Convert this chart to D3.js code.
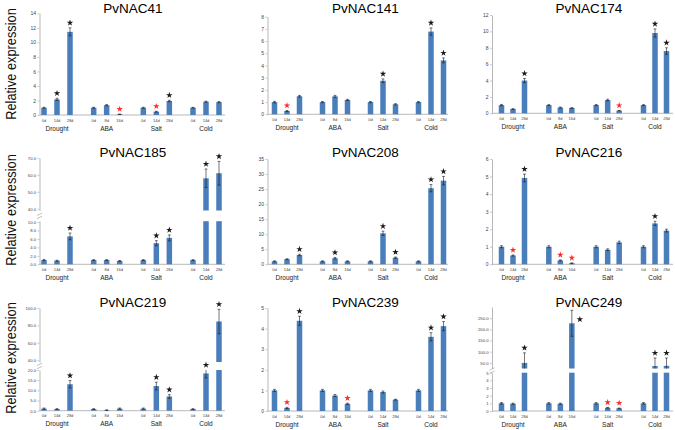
<!DOCTYPE html>
<html>
<head>
<meta charset="utf-8">
<script src="https://cdn.jsdelivr.net/npm/d3@7"></script>
<style>
  body { margin: 0; background: #fff; }
  svg { display: block; font-family: "Liberation Sans", Arial, sans-serif; }
</style>
</head>
<body>
<svg id="chart" width="675" height="430"></svg>
<script>
// Datos: genes, tratamientos y puntos de tiempo
const genes = ["PvNAC41", "PvNAC141", "PvNAC174", "PvNAC185", "PvNAC208", "PvNAC216", "PvNAC219", "PvNAC239", "PvNAC249"];
const groups = ["Drought", "ABA", "Salt", "Cold"];
const timePoints = [["0d", "14d", "28d"], ["0d", "8d", "16d"], ["0d", "14d", "28d"], ["0d", "14d", "28d"]];

// Expresión relativa (12 barras por gen: Drought x3, ABA x3, Salt x3, Cold x3)
const expression = [
  [1.0, 2.15, 11.45, 1.0, 1.35, 0.1, 1.0, 0.45, 1.93, 1.0, 1.83, 1.77],
  [1.0, 0.27, 1.48, 1.0, 1.47, 1.18, 1.0, 2.75, 0.82, 1.0, 6.78, 4.42],
  [1.0, 0.52, 4.0, 1.0, 0.7, 0.65, 1.0, 1.62, 0.32, 1.0, 9.8, 7.6],
  [1.0, 0.85, 6.6, 1.0, 1.0, 0.8, 1.0, 5.0, 6.25, 1.0, 58, 61],
  [1.0, 1.7, 3.1, 1.0, 2.0, 1.0, 1.0, 10.3, 2.2, 1.0, 25.3, 27.8],
  [1.0, 0.5, 4.92, 1.0, 0.22, 0.06, 1.0, 0.83, 1.25, 1.0, 2.33, 1.92],
  [1.0, 0.8, 13, 0.8, 0.3, 1.0, 1.0, 12.1, 7.0, 0.8, 18.3, 84.5],
  [1.0, 0.15, 4.38, 1.0, 0.75, 0.35, 1.0, 0.92, 0.55, 1.0, 3.6, 4.12],
  [1.0, 0.95, 50, 1.0, 0.95, 227, 1.0, 0.42, 0.35, 1.0, 36, 37]
];
// Error estándar
const errors = [
  [0.06, 0.15, 0.55, 0.06, 0.08, 0.03, 0.06, 0.06, 0.1, 0.05, 0.07, 0.08],
  [0.06, 0.04, 0.07, 0.05, 0.08, 0.05, 0.05, 0.15, 0.05, 0.05, 0.3, 0.2],
  [0.08, 0.05, 0.25, 0.06, 0.06, 0.04, 0.07, 0.1, 0.03, 0.06, 0.5, 0.4],
  [0.15, 0.1, 0.8, 0.1, 0.1, 0.1, 0.1, 0.6, 0.7, 0.1, 5.5, 7],
  [0.15, 0.15, 0.25, 0.15, 0.25, 0.15, 0.15, 0.7, 0.2, 0.15, 1.2, 1.4],
  [0.06, 0.03, 0.22, 0.06, 0.03, 0.02, 0.06, 0.05, 0.07, 0.06, 0.12, 0.08],
  [0.3, 0.2, 1.8, 0.2, 0.1, 0.3, 0.3, 1.9, 0.9, 0.2, 2.2, 14],
  [0.05, 0.03, 0.22, 0.05, 0.05, 0.03, 0.05, 0.05, 0.02, 0.05, 0.2, 0.22],
  [0.1, 0.08, 45, 0.1, 0.08, 58, 0.1, 0.05, 0.04, 0.1, 36, 35]
];
// Significancia: 0 nada, 1 estrella negra (sube), 2 estrella roja (baja)
const significance = [
  [0, 1, 1, 0, 0, 2, 0, 2, 1, 0, 0, 0],
  [0, 2, 0, 0, 0, 0, 0, 1, 0, 0, 1, 1],
  [0, 0, 1, 0, 0, 0, 0, 0, 2, 0, 1, 1],
  [0, 0, 1, 0, 0, 0, 0, 1, 1, 0, 1, 1],
  [0, 0, 1, 0, 1, 0, 0, 1, 1, 0, 1, 1],
  [0, 2, 1, 0, 2, 2, 0, 0, 0, 0, 1, 0],
  [0, 0, 1, 0, 0, 0, 0, 1, 1, 0, 1, 1],
  [0, 2, 1, 0, 0, 2, 0, 0, 0, 0, 1, 1],
  [0, 0, 1, 0, 0, 1, 0, 2, 2, 0, 1, 1]
];
// Marcas del eje Y (ejes cortados: tramo inferior y superior)
const yTicks = [
  [0, 2, 4, 6, 8, 10, 12, 14], [0, 1, 2, 3, 4, 5, 6, 7, 8], [0, 2, 4, 6, 8, 10, 12],
  null, [0, 5, 10, 15, 20, 25, 30, 35], [0, 1, 2, 3, 4, 5, 6],
  null, [0, 1, 2, 3, 4, 5], null
];
const lowerTicks = [null, null, null, [0, 2, 4, 6, 8, 10], null, null, [0, 5, 10, 15, 20], null, [0, 1, 2, 3, 4, 5]];
const upperTicks = [null, null, null, [40, 50, 60, 70], null, null, [40, 60, 80, 100], null, [50, 100, 150, 200, 250]];

// Disposición (no son datos)
const colLayout = [
  { axisX: 39.5, axisEnd: 225, first: 57, last: 206, bs: 13, titleX: 133 },
  { axisX: 267.5, axisEnd: 448, first: 287, last: 431, bs: 12.5, titleX: 365.5 },
  { axisX: 492, axisEnd: 673, first: 513, last: 655, bs: 11.5, titleX: 589 }
];
const rowLayout = [
  { titleY: 13, labelY: 64 },
  { titleY: 157, labelY: 210 },
  { titleY: 306.5, labelY: 358 }
];
const frames = [
  { y0: 115, top: 13.3 }, { y0: 114.3, top: 16.7 }, { y0: 113.3, top: 15 },
  { y0: 264.3, lower: [10.2, 221.2], upper: [39, 70, 210.5, 158], fmtL: ".1f", fmtU: ".1f" },
  { y0: 264.3, top: 159 }, { y0: 264.3, top: 159 },
  { y0: 410.7, lower: [20, 370], upper: [38, 100, 362, 308], fmtL: ".1f", fmtU: ".1f" },
  { y0: 411, top: 308 },
  { y0: 411, lower: [5, 372.7], upper: [25, 300, 368.5, 307], fmtL: "d", fmtU: ".1f" }
];
const starBeside = { "8-5": true };

const BLUE = "#4a7ebb";
const AXIS = "#a6a6a6";
const barW = 5.5;

const svg = d3.select("#chart");

function styleAxis(a, fs) {
  a.select(".domain").attr("stroke", AXIS).attr("stroke-width", 0.8);
  a.selectAll(".tick line").attr("stroke", AXIS).attr("stroke-width", 0.6);
  a.selectAll(".tick text").attr("fill", "#444").attr("font-size", fs).attr("font-family", "Liberation Sans, Arial, sans-serif");
}

genes.forEach((gene, p) => {
  const col = p % 3, row = Math.floor(p / 3);
  const c = colLayout[col], r = rowLayout[row], f = frames[p];
  const g = svg.append("g");

  // Escalas X
  const xg = d3.scalePoint().domain(groups).range([c.first, c.last]);
  const xi = d3.scalePoint().domain([0, 1, 2]).range([-c.bs, c.bs]);
  const xPos = i => xg(groups[Math.floor(i / 3)]) + xi(i % 3);

  // Tramos del eje Y
  let segs;
  if (yTicks[p]) {
    const max = yTicks[p][yTicks[p].length - 1];
    segs = [{ domain: [0, max], range: [f.y0, f.top], ticks: yTicks[p], fmt: "d", fs: 5 }];
  } else {
    segs = [
      { domain: [0, f.lower[0]], range: [f.y0, f.lower[1]], ticks: lowerTicks[p], fmt: f.fmtL, fs: 4.2 },
      { domain: [f.upper[0], f.upper[1]], range: [f.upper[2], f.upper[3]], ticks: upperTicks[p], fmt: f.fmtU, fs: 4.2 }
    ];
  }
  segs.forEach(s => { s.scale = d3.scaleLinear().domain(s.domain).range(s.range); });

  segs.forEach(s => {
    const ax = d3.axisLeft(s.scale).tickValues(s.ticks).tickSize(2).tickSizeOuter(0)
      .tickPadding(1.5).tickFormat(d3.format(s.fmt));
    const a = g.append("g").attr("transform", `translate(${c.axisX},0)`).call(ax);
    styleAxis(a, s.fs);
  });

  // Marca de corte del eje
  if (segs.length > 1) {
    const yb = (segs[0].range[1] + segs[1].range[0]) / 2;
    [-1.6, 1.6].forEach(dy => {
      g.append("line")
        .attr("x1", c.axisX - 2.5).attr("x2", c.axisX + 2.5)
        .attr("y1", yb + dy + 1.2).attr("y2", yb + dy - 1.2)
        .attr("stroke", AXIS).attr("stroke-width", 0.7);
    });
  }

  // Eje X
  g.append("line")
    .attr("x1", c.axisX).attr("x2", c.axisEnd)
    .attr("y1", f.y0).attr("y2", f.y0)
    .attr("stroke", AXIS).attr("stroke-width", 0.8);

  const vals = expression[p], errs = errors[p], sig = significance[p];

  // Barras (divididas por tramo)
  vals.forEach((v, i) => {
    segs.forEach(s => {
      const lo = s.domain[0], hi = s.domain[1];
      if (v <= lo) return;
      const top = Math.min(v, hi);
      g.append("rect")
        .attr("x", xPos(i) - barW / 2)
        .attr("y", s.scale(top))
        .attr("width", barW)
        .attr("height", s.scale(lo) - s.scale(top))
        .attr("fill", BLUE);
    });
  });

  // Barras de error y estrellas
  vals.forEach((v, i) => {
    const s = segs.find(sg => v <= sg.domain[1]) || segs[segs.length - 1];
    const lo = s.domain[0], hi = s.domain[1];
    const eTop = Math.min(v + errs[i], hi), eBot = Math.max(v - errs[i], lo);
    const x = xPos(i);
    const ec = "#1a1a1a";
    g.append("line").attr("x1", x).attr("x2", x)
      .attr("y1", s.scale(eBot)).attr("y2", s.scale(eTop))
      .attr("stroke", ec).attr("stroke-width", 0.6);
    if (v + errs[i] <= hi) {
      g.append("line").attr("x1", x - 1.4).attr("x2", x + 1.4)
        .attr("y1", s.scale(eTop)).attr("y2", s.scale(eTop))
        .attr("stroke", ec).attr("stroke-width", 0.6);
    }
    if (v - errs[i] >= lo) {
      g.append("line").attr("x1", x - 1.4).attr("x2", x + 1.4)
        .attr("y1", s.scale(eBot)).attr("y2", s.scale(eBot))
        .attr("stroke", ec).attr("stroke-width", 0.6);
    }
    if (sig[i]) {
      let sx = x, sy = s.scale(eTop) - 5;
      if (starBeside[p + "-" + i]) { sx = x + 8; sy = s.scale(v) - 4; }
      g.append("path")
        .attr("d", d3.symbol(d3.symbolStar, 13)())
        .attr("transform", `translate(${sx},${sy})`)
        .attr("fill", sig[i] === 1 ? "#1a1a1a" : "#ff2b2b");
    }
  });

  // Etiquetas de tiempo y de grupo
  vals.forEach((v, i) => {
    g.append("text")
      .attr("x", xPos(i)).attr("y", f.y0 + 6.5)
      .attr("text-anchor", "middle").attr("font-size", 4)
      .attr("fill", "#444")
      .text(timePoints[Math.floor(i / 3)][i % 3]);
  });
  groups.forEach(gr => {
    g.append("text")
      .attr("x", xg(gr)).attr("y", f.y0 + 15.5)
      .attr("text-anchor", "middle").attr("font-size", 6.5)
      .attr("fill", "#222")
      .text(gr);
  });

  // Título
  g.append("text")
    .attr("x", c.titleX).attr("y", r.titleY)
    .attr("text-anchor", "middle").attr("font-size", 13.5)
    .attr("fill", "#000")
    .text(gene);
});

// Etiqueta del eje Y por fila (glifos estirados en altura, largo natural)
rowLayout.forEach(r => {
  svg.append("text")
    .attr("transform", `translate(16,${r.labelY}) rotate(-90) scale(1,1.2)`)
    .attr("text-anchor", "middle")
    .attr("font-size", 12.8)
    .attr("fill", "#111")
    .text("Relative expression");
});
</script>
</body>
</html>
